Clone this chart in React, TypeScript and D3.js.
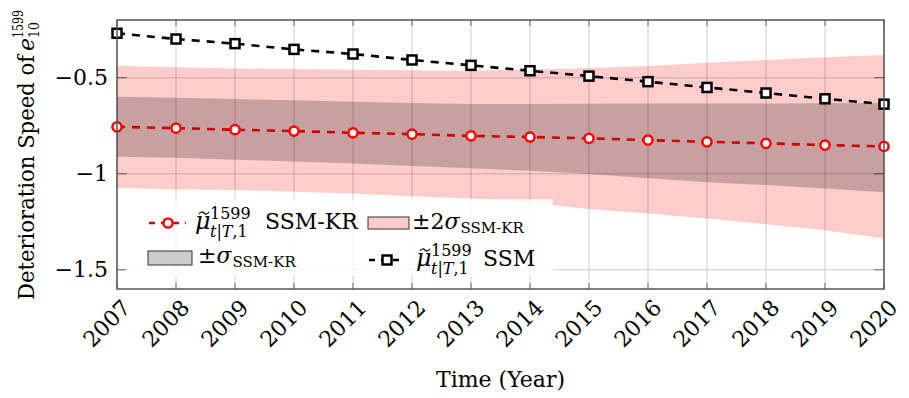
import React from 'react';
import * as d3 from 'd3';

const years = [2007, 2008, 2009, 2010, 2011, 2012, 2013, 2014, 2015, 2016, 2017, 2018, 2019, 2020];
const ssmKrMean = [-0.756, -0.763, -0.771, -0.778, -0.787, -0.794, -0.803, -0.809, -0.816, -0.825, -0.834, -0.842, -0.851, -0.858];
const ssmMean = [-0.269, -0.299, -0.323, -0.353, -0.377, -0.408, -0.436, -0.464, -0.492, -0.521, -0.551, -0.580, -0.610, -0.638];
const sigmaUpper = [-0.599, -0.605, -0.611, -0.618, -0.626, -0.632, -0.637, -0.637, -0.636, -0.635, -0.635, -0.634, -0.633, -0.632];
const sigmaLower = [-0.912, -0.917, -0.927, -0.937, -0.947, -0.960, -0.972, -0.985, -1.002, -1.024, -1.044, -1.059, -1.077, -1.097];
const twoSigmaUpper = [-0.438, -0.446, -0.452, -0.455, -0.459, -0.462, -0.464, -0.457, -0.450, -0.440, -0.422, -0.408, -0.394, -0.382];
const twoSigmaLower = [-1.073, -1.082, -1.085, -1.094, -1.103, -1.117, -1.129, -1.153, -1.183, -1.207, -1.233, -1.263, -1.294, -1.337];
const yTicks = [-1.5, -1, -0.5];
const yTickLabels = ['\u22121.5', '\u22121', '\u22120.5'];

const serif = '"DejaVu Serif", "Liberation Serif", serif';

function MuLabel({ x, y }: { x: number; y: number }) {
  return (
    <g fill="#000">
      <text x={x} y={y} fontSize={24} fontStyle="italic">{'\u03BC'}</text>
      <path d={`M${x + 4},${y - 15} q2.5,-3.5 5,-1 t5,-1`} fill="none" stroke="#000" strokeWidth={1.2} />
      <text x={x + 15} y={y - 10} fontSize={16}>1599</text>
      <text x={x + 15} y={y + 8} fontSize={16}>
        <tspan fontStyle="italic">t</tspan>
        <tspan>|</tspan>
        <tspan fontStyle="italic">T</tspan>
        <tspan>,1</tspan>
      </text>
    </g>
  );
}

export default function App() {
  const W = 909, H = 398;
  const left = 117, right = 884, top = 20, bottom = 289;
  const x = d3.scaleLinear().domain([2007, 2020]).range([left, right]);
  const y = d3.scaleLinear().domain([-1.6, -0.2]).range([bottom, top]);

  const idx = years.map((_, i) => i);
  const area2 = d3.area<number>().x(i => x(years[i])).y0(i => y(twoSigmaLower[i])).y1(i => y(twoSigmaUpper[i]))(idx) || '';
  const area1 = d3.area<number>().x(i => x(years[i])).y0(i => y(sigmaLower[i])).y1(i => y(sigmaUpper[i]))(idx) || '';
  const lineKr = d3.line<number>().x(i => x(years[i])).y(i => y(ssmKrMean[i]))(idx) || '';
  const lineSsm = d3.line<number>().x(i => x(years[i])).y(i => y(ssmMean[i]))(idx) || '';

  const gridColor = 'rgba(0,0,0,0.13)';
  const frame = '#555';
  const sq = 9;

  return (
    <svg width={W} height={H} style={{ position: 'absolute', left: 0, top: 0, background: '#fff' }} fontFamily={serif}>
      <rect x={0} y={0} width={W} height={H} fill="#fff" />
      <path d={area2} fill="#ff0000" fillOpacity={0.2} />
      <path d={area1} fill="#000" fillOpacity={0.21} />
      {years.map(yr => (
        <line key={'gx' + yr} x1={x(yr)} x2={x(yr)} y1={top} y2={bottom} stroke={gridColor} strokeWidth={1.5} />
      ))}
      {yTicks.map(t => (
        <line key={'gy' + t} x1={left} x2={right} y1={y(t)} y2={y(t)} stroke={gridColor} strokeWidth={1.5} />
      ))}
      {years.map(yr => (
        <g key={'tx' + yr}>
          <line x1={x(yr)} x2={x(yr)} y1={bottom} y2={bottom - 6} stroke="rgba(0,0,0,0.45)" strokeWidth={1.2} />
          <line x1={x(yr)} x2={x(yr)} y1={top} y2={top + 6} stroke="rgba(0,0,0,0.45)" strokeWidth={1.2} />
        </g>
      ))}
      {yTicks.map(t => (
        <g key={'ty' + t}>
          <line x1={left} x2={left + 10} y1={y(t)} y2={y(t)} stroke="rgba(0,0,0,0.45)" strokeWidth={1.2} />
          <line x1={right} x2={right - 10} y1={y(t)} y2={y(t)} stroke="rgba(0,0,0,0.45)" strokeWidth={1.2} />
        </g>
      ))}
      <path d={lineKr} fill="none" stroke="#cc0000" strokeWidth={2.6} strokeDasharray="8,7" />
      <path d={lineSsm} fill="none" stroke="#000" strokeWidth={2.6} strokeDasharray="8,7" />
      {years.map((yr, i) => (
        <circle key={'c' + yr} cx={x(yr)} cy={y(ssmKrMean[i])} r={4.6} fill="#fff" stroke="#ff0000" strokeWidth={2.5} />
      ))}
      {years.map((yr, i) => (
        <rect key={'s' + yr} x={x(yr) - sq / 2} y={y(ssmMean[i]) - sq / 2} width={sq} height={sq} fill="#fff" stroke="#000" strokeWidth={2.5} />
      ))}
      <rect x={126} y={199} width={427} height={77} fill="#fff" fillOpacity={0.82} />
      <g>
        <line x1={148} x2={186} y1={223} y2={223} stroke="#cc0000" strokeWidth={2.6} strokeDasharray="6,6" strokeDashoffset={-1} />
        <circle cx={168} cy={223} r={4.6} fill="#fff" stroke="#ff0000" strokeWidth={2.5} />
        <MuLabel x={195} y={229} />
        <text x={265} y={229} fontSize={22}>SSM-KR</text>
        <rect x={368} y={217} width={41} height={12} fill="#ffcccc" stroke="#333" strokeWidth={1} />
        <text x={412} y={229} fontSize={22}>{'\u00B12'}<tspan fontStyle="italic">{'\u03C3'}</tspan><tspan fontSize={15} dy={4} dx={1}>SSM-KR</tspan></text>

        <rect x={148} y={251} width={44} height={14} fill="#cccccc" stroke="#333" strokeWidth={1} />
        <text x={198} y={263} fontSize={22}>{'\u00B1'}<tspan fontStyle="italic">{'\u03C3'}</tspan><tspan fontSize={15} dy={4} dx={1}>SSM-KR</tspan></text>
        <line x1={368} x2={405} y1={260} y2={260} stroke="#000" strokeWidth={2.6} strokeDasharray="6,6" strokeDashoffset={-1} />
        <rect x={387 - sq / 2} y={260 - sq / 2} width={sq} height={sq} fill="#fff" stroke="#000" strokeWidth={2.5} />
        <MuLabel x={416} y={266} />
        <text x={483} y={266} fontSize={22}>SSM</text>
      </g>
      <rect x={left} y={top} width={right - left} height={bottom - top} fill="none" stroke={frame} strokeWidth={1.5} />
      {yTicks.map((t, i) => (
        <text key={'yl' + t} x={108} y={y(t)} dy="0.33em" textAnchor="end" fontSize={22}>{yTickLabels[i]}</text>
      ))}
      {years.map(yr => (
        <text key={'xl' + yr} transform={`translate(${x(yr) + 15},${309}) rotate(-45)`} textAnchor="end" fontSize={22}>{String(yr)}</text>
      ))}
      <text x={(left + right) / 2} y={387} textAnchor="middle" fontSize={22}>Time (Year)</text>
      <g transform="translate(34,154) rotate(-90)">
        <text x={-146} y={0} fontSize={22} textLength={245} lengthAdjust="spacingAndGlyphs">Deterioration Speed of</text>
        <text x={103} y={0} fontSize={22} fontStyle="italic">e</text>
        <text x={116} y={-11} fontSize={15} textLength={28} lengthAdjust="spacingAndGlyphs">1599</text>
        <text x={116} y={5} fontSize={15} textLength={16} lengthAdjust="spacingAndGlyphs">10</text>
      </g>
    </svg>
  );
}
